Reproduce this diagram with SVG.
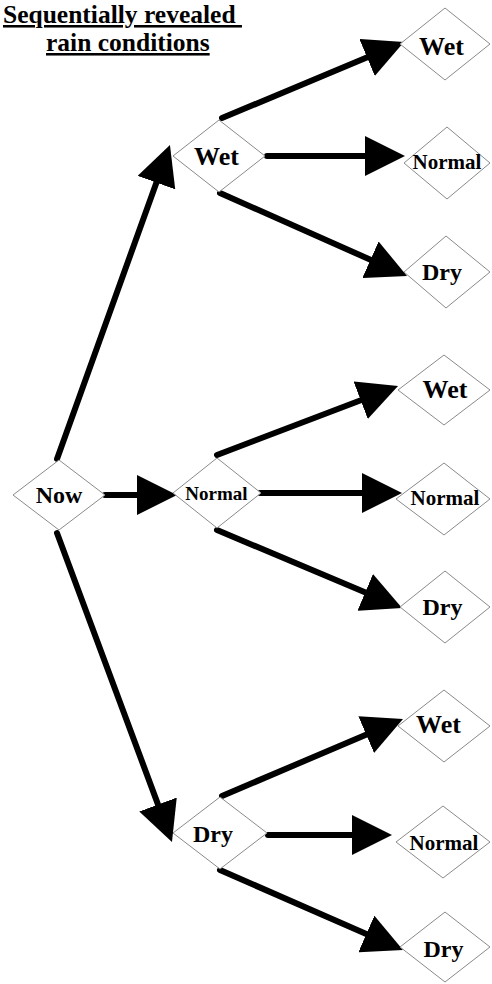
<svg xmlns="http://www.w3.org/2000/svg" width="492" height="984" viewBox="0 0 492 984">
<style>
.d{fill:#fff;stroke:#8a8a8a;stroke-width:1}
.t{font-family:"Liberation Serif","Times New Roman","DejaVu Serif",serif;font-weight:bold;fill:#000;text-anchor:middle}
.c{stroke:#000;stroke-width:6;stroke-linecap:round;fill:none;marker-end:url(#ah)}
.ttl{font-family:"Liberation Serif","Times New Roman","DejaVu Serif",serif;font-weight:bold;font-size:25.5px;text-decoration:underline;white-space:pre}
</style>
<defs>
<marker id="ah" markerUnits="userSpaceOnUse" markerWidth="40" markerHeight="40" refX="10" refY="20" orient="auto" viewBox="0 0 40 40">
<path d="M0,0 L40,20 L0,40 Z" fill="#000"/>
</marker>
</defs>
<rect width="492" height="984" fill="#fff"/>
<g id="title">
<text class="ttl" x="3" y="23" xml:space="preserve">Sequentially revealed </text>
<text class="ttl" x="46" y="51">rain conditions</text>
</g>
<g id="connectors">
<line class="c" x1="57" y1="459" x2="159.8" y2="173.2"/>
<line class="c" x1="105" y1="495" x2="147" y2="495"/>
<line class="c" x1="57" y1="533" x2="161.5" y2="813.9"/>
<line class="c" x1="222" y1="118" x2="376.3" y2="53.6"/>
<line class="c" x1="267" y1="156" x2="375" y2="156"/>
<line class="c" x1="220" y1="193" x2="379.6" y2="263.8"/>
<line class="c" x1="217" y1="455" x2="370" y2="396.7"/>
<line class="c" x1="260" y1="493" x2="372" y2="493"/>
<line class="c" x1="217" y1="530" x2="374.4" y2="596.3"/>
<line class="c" x1="222" y1="796" x2="375.4" y2="730.7"/>
<line class="c" x1="268" y1="835" x2="362" y2="835"/>
<line class="c" x1="220" y1="870" x2="375.5" y2="938"/>
</g>
<g id="now"><polygon class="d" points="13,495 59,460 105,495 59,530"/><text class="t" x="59" y="503" font-size="24">Now</text></g>
<g id="wet"><polygon class="d" points="173,156 219,120 265,156 219,192"/><text class="t" x="216.5" y="165" font-size="26">Wet</text></g>
<g id="normal"><polygon class="d" points="173,493 217,458 261,493 217,528"/><text class="t" x="216.5" y="500" font-size="19">Normal</text></g>
<g id="dry"><polygon class="d" points="173,833 220,797 267,833 220,869"/><text class="t" x="213" y="842" font-size="24">Dry</text></g>
<g id="wet-wet"><polygon class="d" points="400,44 445,8 490,44 445,80"/><text class="t" x="441.5" y="55" font-size="26">Wet</text></g>
<g id="wet-normal"><polygon class="d" points="404,163 447,127 490,163 447,199"/><text class="t" x="447" y="169" font-size="21">Normal</text></g>
<g id="wet-dry"><polygon class="d" points="404,272 446,236 490,272 446,308"/><text class="t" x="442" y="280" font-size="24">Dry</text></g>
<g id="normal-wet"><polygon class="d" points="398,390 444,355 490,390 444,425"/><text class="t" x="445" y="398" font-size="26">Wet</text></g>
<g id="normal-normal"><polygon class="d" points="396,499 444,463 490,499 444,535"/><text class="t" x="445" y="505" font-size="21">Normal</text></g>
<g id="normal-dry"><polygon class="d" points="400,607 445,571 490,607 445,643"/><text class="t" x="442.5" y="615" font-size="24">Dry</text></g>
<g id="dry-wet"><polygon class="d" points="398,726 444,690 490,726 444,762"/><text class="t" x="438.5" y="733" font-size="26">Wet</text></g>
<g id="dry-normal"><polygon class="d" points="396,842 443,806 490,842 443,878"/><text class="t" x="444" y="850" font-size="21">Normal</text></g>
<g id="dry-dry"><polygon class="d" points="400,947 445,912 490,947 445,982"/><text class="t" x="443.5" y="957" font-size="24">Dry</text></g>
</svg>
